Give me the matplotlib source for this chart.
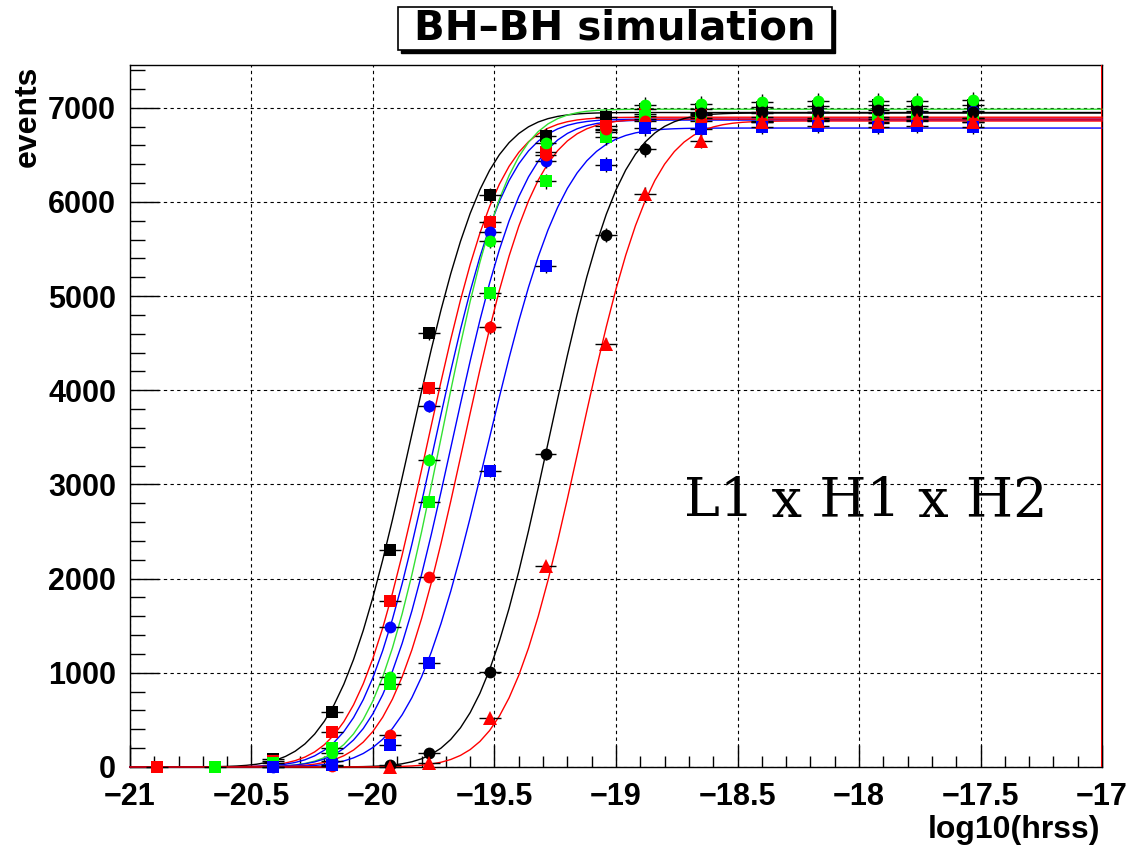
#!/usr/bin/env python3

# BH-BH simulation: detection counts vs log10(hrss) with sigmoid fits

import math
import numpy as np
import matplotlib
matplotlib.use("Agg")
from matplotlib import pyplot as plt
from matplotlib.patches import Rectangle
from matplotlib.ticker import MultipleLocator

# plateau columns shared by every series (log10 hrss)
x_plateau = [-18.65, -18.40, -18.17, -17.92, -17.76, -17.53]

# black squares
x_bsq = [-20.41, -20.17, -19.93, -19.77, -19.52, -19.29, -19.04, -18.88] + x_plateau
y_bsq = [80, 585, 2300, 4605, 6075, 6705, 6905, 6985, 6990, 7010, 7020, 7030, 7020, 7030]
# red squares
x_rsq = [-20.89, -20.41, -20.17, -19.93, -19.77, -19.52, -19.29, -19.04, -18.88] + x_plateau
y_rsq = [0, 60, 372, 1760, 4025, 5790, 6530, 6810, 6935, 6920, 6900, 6890, 6900, 6910, 6890]
# blue circles
x_bci = [-20.41, -20.17, -19.93, -19.77, -19.52, -19.29, -19.04, -18.88] + x_plateau
y_bci = [0, 60, 1490, 3830, 5680, 6440, 6740, 6880, 6930, 6950, 6960, 6950, 6960, 6970]
# green squares
x_gsq = [-20.65, -20.41, -20.17, -19.93, -19.77, -19.52, -19.29, -19.04, -18.88] + x_plateau
y_gsq = [0, 40, 200, 885, 2810, 5030, 6220, 6690, 6910, 6890, 6860, 6870, 6880, 6900, 6890]
# green circles
x_gci = [-20.17, -19.93, -19.77, -19.52, -19.29, -19.04, -18.88] + x_plateau
y_gci = [150, 960, 3265, 5585, 6625, 6760, 7030, 7043, 7063, 7075, 7070, 7070, 7080]
# red circles
x_rci = [-20.17, -19.93, -19.77, -19.52, -19.29, -19.04, -18.88] + x_plateau
y_rci = [10, 340, 2020, 4670, 6500, 6780, 6860, 6860, 6850, 6870, 6840, 6860, 6850]
# blue squares
x_bsq2 = [-20.41, -20.17, -19.93, -19.77, -19.52, -19.29, -19.04, -18.88] + x_plateau
y_bsq2 = [0, 20, 230, 1105, 3140, 5315, 6395, 6785, 6780, 6800, 6810, 6800, 6810, 6800]
# black circles
x_kci = [-19.93, -19.77, -19.52, -19.29, -19.04, -18.88] + x_plateau
y_kci = [20, 150, 1010, 3320, 5650, 6560, 6950, 6960, 6960, 6980, 6970, 6960]
# red triangles
x_rtr = [-19.93, -19.77, -19.52, -19.29, -19.04, -18.88] + x_plateau
y_rtr = [0, 40, 520, 2130, 4490, 6080, 6650, 6850, 6860, 6850, 6870, 6850]

# fit parameters: plateau, centre, width
fit_colors = ["black", "red", "blue", "#33e033", "blue", "red", "blue", "black", "red"]
fit_plateau = [6950, 6900, 6880, 6985, 6870, 6880, 6785, 6945, 6860]
fit_center = [-19.845, -19.775, -19.746, -19.72, -19.676, -19.627, -19.53, -19.277, -19.15]
fit_width = [0.34, 0.33, 0.33, 0.31, 0.33, 0.33, 0.355, 0.33, 0.33]

series = [
    (x_bsq, y_bsq, "s", "black"),
    (x_rsq, y_rsq, "s", "red"),
    (x_bci, y_bci, "o", "blue"),
    (x_gsq, y_gsq, "s", "#00ff00"),
    (x_gci, y_gci, "o", "#00ff00"),
    (x_rci, y_rci, "o", "red"),
    (x_bsq2, y_bsq2, "s", "blue"),
    (x_kci, y_kci, "o", "black"),
    (x_rtr, y_rtr, "^", "red"),
]
marker_size = {"s": 9, "o": 8.5, "^": 9.5}

XERR = 0.045

tick_font = {"family": "Liberation Sans", "weight": "bold", "size": 22}

fig = plt.figure(figsize=(11.4, 8.47), dpi=100)
ax = fig.add_axes([0.114, 0.0945, 0.8527, 0.8288])

ax.set_xlim(-21, -17)
ax.set_ylim(0, 7455)

ax.grid(True, which="major", color="black", linestyle=(0, (3, 3)), linewidth=0.8)
ax.set_axisbelow(True)

# fit curves
xf = np.linspace(-21, -17, 101)
erf = np.vectorize(math.erf)
for col, a, m, s in zip(fit_colors, fit_plateau, fit_center, fit_width):
    yf = 0.5 * a * (1 + erf((xf - m) / s))
    ax.plot(xf, yf, color=col, lw=1.0, zorder=3, clip_on=False)

# data points with error bars
for xs, ys, mk, col in series:
    ys = np.array(ys, dtype=float)
    ax.errorbar(xs, ys, xerr=XERR, yerr=np.sqrt(ys), fmt=mk, color=col,
                ecolor="black", elinewidth=1.0, capsize=0,
                markersize=marker_size[mk], markeredgewidth=0,
                zorder=4, clip_on=False)

ax.axvline(-17, color="red", lw=2.2, zorder=5)

ax.xaxis.set_major_locator(MultipleLocator(0.5))
ax.xaxis.set_minor_locator(MultipleLocator(0.1))
ax.yaxis.set_major_locator(MultipleLocator(1000))
ax.yaxis.set_minor_locator(MultipleLocator(200))
ax.tick_params(axis="x", which="major", direction="in", length=16, width=1, pad=11)
ax.tick_params(axis="x", which="minor", direction="in", length=8, width=1)
ax.tick_params(axis="y", which="major", direction="in", length=21, width=1, pad=10)
ax.tick_params(axis="y", which="minor", direction="in", length=11, width=1)

ax.set_xticks([-21, -20.5, -20, -19.5, -19, -18.5, -18, -17.5, -17])
ax.set_xticklabels(["\u221221", "\u221220.5", "\u221220", "\u221219.5", "\u221219",
                    "\u221218.5", "\u221218", "\u221217.5", "\u221217"])
for lab in ax.get_xticklabels() + ax.get_yticklabels():
    lab.set_fontproperties(matplotlib.font_manager.FontProperties(**tick_font))

for sp in ax.spines.values():
    sp.set_linewidth(1.0)
    sp.set_zorder(2.5)

fig.text(0.024, 0.923, "events", rotation=90, ha="center", va="top",
         fontfamily="Liberation Sans", fontweight="bold", fontsize=23)
fig.text(0.965, 0.02, "log10(hrss)", ha="right", va="center",
         fontfamily="Liberation Sans", fontweight="bold", fontsize=23)

ax.text(-17.97, 2650, "L1 x H1 x H2", ha="center", va="baseline",
        fontfamily="DejaVu Serif", fontsize=39)

# title box with shadow
bx, by, bw, bh = 398 / 1140, 1 - 50 / 847, 434 / 1140, 43 / 847
fig.add_artist(Rectangle((bx + 3 / 1140, by - 3 / 847), bw, bh, transform=fig.transFigure,
                         facecolor="black", edgecolor="black", lw=1))
fig.add_artist(Rectangle((bx, by), bw, bh, transform=fig.transFigure,
                         facecolor="white", edgecolor="black", lw=1.2))
fig.text(bx + bw / 2, by + bh / 2, "BH\u2013BH simulation", ha="center", va="center",
         fontfamily="DejaVu Sans", fontweight="bold", fontsize=29)

plt.savefig("out.png", dpi=100)
